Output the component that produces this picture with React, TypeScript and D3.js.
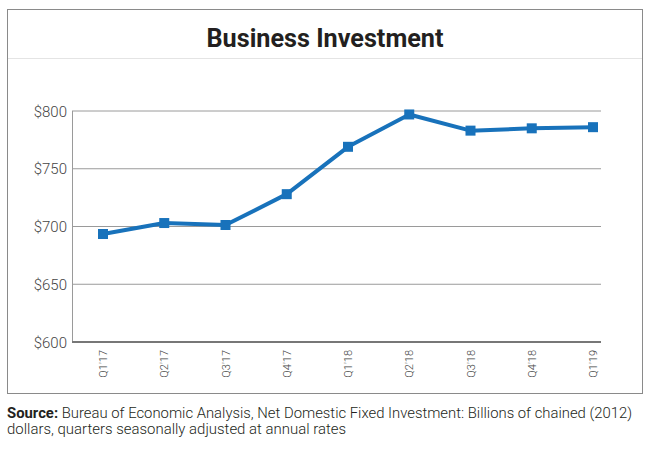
import React from "react";
import * as d3 from "d3";

const categories = ["Q1'17", "Q2'17", "Q3'17", "Q4'17", "Q1'18", "Q2'18", "Q3'18", "Q4'18", "Q1'19"];
const values = [693.5, 703, 701.3, 728, 769, 797, 783, 785, 786];
const yTicks = [600, 650, 700, 750, 800];
const title = "Business Investment";
const sourceLine1 = "Bureau of Economic Analysis, Net Domestic Fixed Investment: Billions of chained (2012)";
const sourceLine2 = "dollars, quarters seasonally adjusted at annual rates";

export default function App() {
  const W = 650, H = 456;
  const left = 72, right = 601, top = 111, bottom = 342;
  const x = d3.scalePoint<string>().domain(categories).range([103, 593]);
  const y = d3.scaleLinear().domain([600, 800]).range([bottom, top]);
  const line = d3.line<number>().x((_, i) => x(categories[i])!).y(d => y(d));
  const font = "Roboto, 'Open Sans', sans-serif";
  return (
    <svg width={W} height={H} style={{ position: "absolute", left: 0, top: 0, background: "#fff" }}>
      <rect x={7.5} y={9.5} width={635} height={384} fill="#fff" stroke="#8a8a8a" strokeWidth={1} />
      <line x1={8} x2={642} y1={58.5} y2={58.5} stroke="#e4e4e4" strokeWidth={1} />
      <text x={325} y={47} textAnchor="middle" fontFamily={font} fontWeight={700} fontSize={26} fill="#231f20" textLength={237} lengthAdjust="spacingAndGlyphs">{title}</text>
      {yTicks.filter(t => t > 600).map(t => (
        <line key={t} x1={left} x2={right} y1={y(t)} y2={y(t)} stroke="#9a9a9a" strokeWidth={1} />
      ))}
      <line x1={left + 0.5} x2={left + 0.5} y1={top} y2={bottom} stroke="#9a9a9a" strokeWidth={1} />
      <line x1={left} x2={right} y1={bottom} y2={bottom} stroke="#777" strokeWidth={2} />
      {yTicks.map(t => (
        <text key={t} x={67} y={y(t) + 5.5} textAnchor="end" fontFamily={font} fontWeight={300} fontSize={15} fill="#444">{`$${t}`}</text>
      ))}
      {categories.map(c => (
        <text key={c} transform={`translate(${x(c)! + 4},350) rotate(-90)`} textAnchor="end" fontFamily={font} fontWeight={300} fontSize={11} fill="#444">{c}</text>
      ))}
      <path d={line(values)!} fill="none" stroke="#1872bb" strokeWidth={4} strokeLinejoin="round" />
      {values.map((v, i) => (
        <rect key={i} x={x(categories[i])! - 5} y={y(v) - 5} width={10} height={10} fill="#1872bb" />
      ))}
      <text x={7} y={418} fontFamily={font} fontWeight={300} fontSize={14} fill="#231f20" textLength={625} lengthAdjust="spacingAndGlyphs">
        <tspan fontWeight={700}>Source: </tspan>{sourceLine1}
      </text>
      <text x={7} y={434} fontFamily={font} fontWeight={300} fontSize={14} fill="#231f20" textLength={339} lengthAdjust="spacingAndGlyphs">{sourceLine2}</text>
    </svg>
  );
}
